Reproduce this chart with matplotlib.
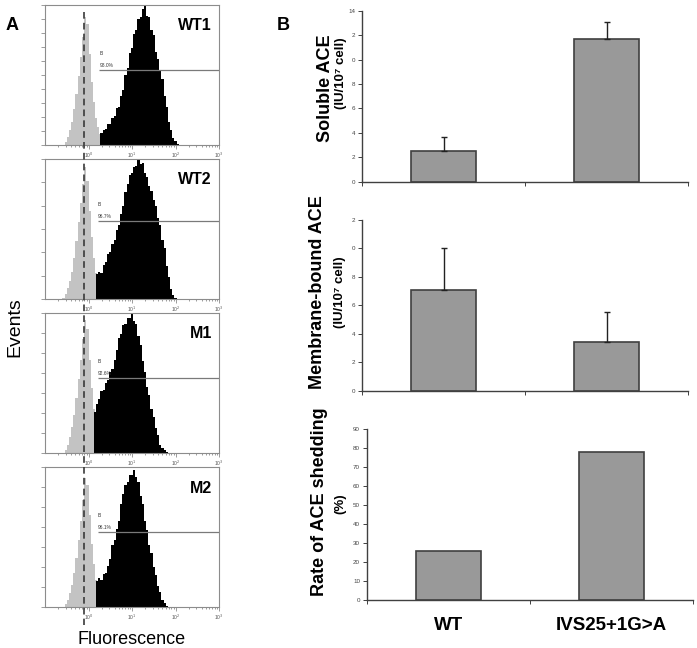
import numpy as np
import matplotlib.pyplot as plt
from matplotlib import transforms
from matplotlib.lines import Line2D

plt.rcParams['font.family'] = ['Liberation Sans', 'DejaVu Sans']

# ---- panel A : flow cytometry histograms (log10 fluorescence, % of max) ----
samples = ['WT1', 'WT2', 'M1', 'M2']
bin_step = 0.05

control_start = [-0.55, -0.60, -0.55, -0.55]
control_counts = [
    [2, 6, 11, 17, 26, 37, 50, 64, 79, 93, 88, 66, 46, 31, 20, 13, 8, 4, 2],
    [1, 4, 8, 13, 20, 30, 42, 56, 70, 84, 96, 86, 64, 45, 30, 19, 12, 7, 3, 1],
    [2, 6, 12, 19, 28, 40, 54, 68, 83, 97, 90, 68, 47, 32, 21, 13, 8, 4, 2],
    [2, 5, 10, 16, 25, 36, 49, 63, 78, 94, 89, 67, 46, 31, 20, 12, 7, 4, 1],
]

stained_start = [0.275, 0.175, 0.125, 0.175]
stained_counts = [
    [9, 11, 12, 15, 15, 20, 21, 27, 28, 36, 40, 51, 56, 67, 71, 81, 84, 92,
     93, 99, 101, 94, 93, 84, 80, 68, 63, 54, 48, 36, 28, 17, 11, 5, 3, 1],
    [18, 20, 19, 25, 27, 33, 34, 40, 43, 50, 54, 62, 68, 78, 84, 90, 92, 96,
     97, 101, 98, 99, 92, 89, 82, 79, 72, 68, 59, 54, 43, 37, 24, 16, 7, 3, 1],
    [30, 36, 39, 45, 46, 51, 53, 59, 61, 68, 75, 84, 87, 93, 94, 98, 98,
     101, 96, 94, 85, 79, 67, 59, 48, 42, 32, 26, 18, 13, 6, 4, 2, 1],
    [19, 21, 20, 24, 25, 30, 35, 45, 49, 57, 63, 75, 82, 89, 91, 96, 96, 100,
     95, 91, 81, 75, 63, 56, 45, 39, 29, 23, 15, 11, 5, 3, 1],
]

gate_start = [0.25, 0.21, 0.21, 0.21]
gate_level = [55, 57, 55, 55]
gate_pct = ['98.0%', '96.7%', '92.6%', '96.1%']
ytick_intervals = [10, 6, 7, 7]
threshold = 10 ** -0.1

# ---- panel B : ACE activity ----
groups = ['WT', 'IVS25+1G>A']
soluble_mean = [2.5, 11.7]
soluble_err = [1.2, 1.4]
membrane_mean = [7.1, 3.4]
membrane_err = [2.9, 2.1]
shedding_rate = [26, 78]
soluble_ticks = [0, 2, 4, 6, 8, 10, 12, 14]
soluble_ticklabels = ['0', '2', '4', '6', '8', '0', '2', '14']
membrane_ticks = [0, 2, 4, 6, 8, 10, 12]
membrane_ticklabels = ['0', '2', '4', '6', '8', '0', '2']
shedding_ticks = [0, 10, 20, 30, 40, 50, 60, 70, 80, 90]

W, H = 697, 648
fig = plt.figure(figsize=(W / 100, H / 100), dpi=100)


def box(left, top, right, bottom):
    return [left / W, 1 - bottom / H, (right - left) / W, (bottom - top) / H]


frame_col = '#8c8c8c'
hist_axes = []
for i, name in enumerate(samples):
    top = 5 + 154 * i
    ax = fig.add_axes(box(45, top, 219, top + 140))
    hist_axes.append(ax)
    ax.set_xscale('log')
    ax.set_xlim(0.1, 1000)
    ax.set_ylim(0, 102)

    c = control_counts[i]
    edges = 10 ** (control_start[i] + bin_step * np.arange(len(c) + 1))
    ax.stairs(c, edges, fill=True, color='#c3c3c3', lw=0)

    ax.hlines(gate_level[i], 10 ** gate_start[i], 1000, color='#7a7a7a', lw=0.9)
    ax.text(10 ** gate_start[i], gate_level[i] + 10, 'B', fontsize=3.5,
            ha='left', va='bottom', color='#333333')
    ax.text(10 ** gate_start[i], gate_level[i] + 1, gate_pct[i], fontsize=3.5,
            ha='left', va='bottom', color='#333333')

    s = stained_counts[i]
    edges = 10 ** (stained_start[i] + bin_step * np.arange(len(s) + 1))
    ax.stairs(s, edges, fill=True, color='black', lw=0)

    ax.text(0.96, 0.85, name, transform=ax.transAxes, ha='right', va='center',
            fontsize=11.5, fontweight='bold')

    ax.set_yticks(np.linspace(0, 102, ytick_intervals[i] + 1))
    ax.set_yticklabels([])
    ax.set_xticks([1, 10, 100, 1000])
    ax.set_xticklabels(['10$^0$', '10$^1$', '10$^2$', '10$^3$'], fontsize=3.5,
                       color='#555555')
    ax.tick_params(which='both', direction='out', color=frame_col, width=0.6)
    ax.tick_params(which='major', length=3, pad=1)
    ax.tick_params(which='minor', length=1.5)
    for sp in ax.spines.values():
        sp.set_color(frame_col)
        sp.set_linewidth(0.8)

# dashed threshold line running through all four histograms
trans = transforms.blended_transform_factory(hist_axes[0].transData, fig.transFigure)
fig.add_artist(Line2D([threshold, threshold], [1 - 12 / H, 1 - 625 / H],
                      transform=trans, color='#3a3a3a', lw=1.2,
                      dashes=(4, 2.5)))

fig.text(12 / W, 1 - 25 / H, 'A', fontsize=13, fontweight='bold',
         ha='center', va='center')
fig.text(15 / W, 1 - 327 / H, 'Events', fontsize=14, rotation=90,
         ha='center', va='center')
fig.text(132 / W, 1 - 640 / H, 'Fluorescence', fontsize=13,
         ha='center', va='center')

# ---- bar charts ----
fig.text(283 / W, 1 - 25 / H, 'B', fontsize=13, fontweight='bold',
         ha='center', va='center')

bar_col = '#999999'
edge_col = '#404040'
x = np.array([0.5, 1.5])


def style_bar_axes(ax, ticks, ticklabels):
    ax.set_xlim(0, 2)
    ax.set_ylim(ticks[0], ticks[-1])
    ax.set_yticks(ticks)
    ax.set_yticklabels(ticklabels, fontsize=4.5, color='#444444')
    ax.set_xticks([0, 1, 2])
    ax.set_xticklabels([])
    ax.tick_params(direction='out', length=3, width=0.7, color=edge_col, pad=2)
    for sp in ['top', 'right']:
        ax.spines[sp].set_visible(False)
    for sp in ['left', 'bottom']:
        ax.spines[sp].set_color(edge_col)
        ax.spines[sp].set_linewidth(1.0)


ax1 = fig.add_axes(box(362, 10.7, 688, 181.7))
ax1.bar(x, soluble_mean, width=0.4, color=bar_col, edgecolor=edge_col, lw=1.2,
        yerr=[[0, 0], soluble_err], capsize=2.5,
        error_kw=dict(ecolor='#222222', elinewidth=1, capthick=1))
style_bar_axes(ax1, soluble_ticks, soluble_ticklabels)

ax2 = fig.add_axes(box(362, 219.5, 688, 391))
ax2.bar(x, membrane_mean, width=0.4, color=bar_col, edgecolor=edge_col, lw=1.2,
        yerr=[[0, 0], membrane_err], capsize=2.5,
        error_kw=dict(ecolor='#222222', elinewidth=1, capthick=1))
style_bar_axes(ax2, membrane_ticks, membrane_ticklabels)

ax3 = fig.add_axes(box(367, 429.3, 693, 600))
ax3.bar(x, shedding_rate, width=0.4, color=bar_col, edgecolor=edge_col, lw=1.2)
style_bar_axes(ax3, shedding_ticks, [str(t) for t in shedding_ticks])
ax3.set_xticks(x, minor=True)
ax3.set_xticklabels(groups, minor=True, fontsize=13.5, fontweight='bold')
ax3.tick_params(axis='x', which='minor', length=0, pad=12)

# y-axis titles
lab = dict(rotation=90, ha='center', va='center', fontweight='bold')
fig.text(325 / W, 1 - 88 / H, 'Soluble ACE', fontsize=13, **lab)
fig.text(341 / W, 1 - 73 / H, '(IU/10\u2077 cell)', fontsize=9.5, **lab)
fig.text(318 / W, 1 - 292 / H, 'Membrane-bound ACE', fontsize=13, **lab)
fig.text(340 / W, 1 - 292 / H, '(IU/10\u2077 cell)', fontsize=9.5, **lab)
fig.text(320 / W, 1 - 502 / H, 'Rate of ACE shedding', fontsize=13, **lab)
fig.text(340 / W, 1 - 504 / H, '(%)', fontsize=9.5, **lab)

fig.savefig('out.png', dpi=100)
